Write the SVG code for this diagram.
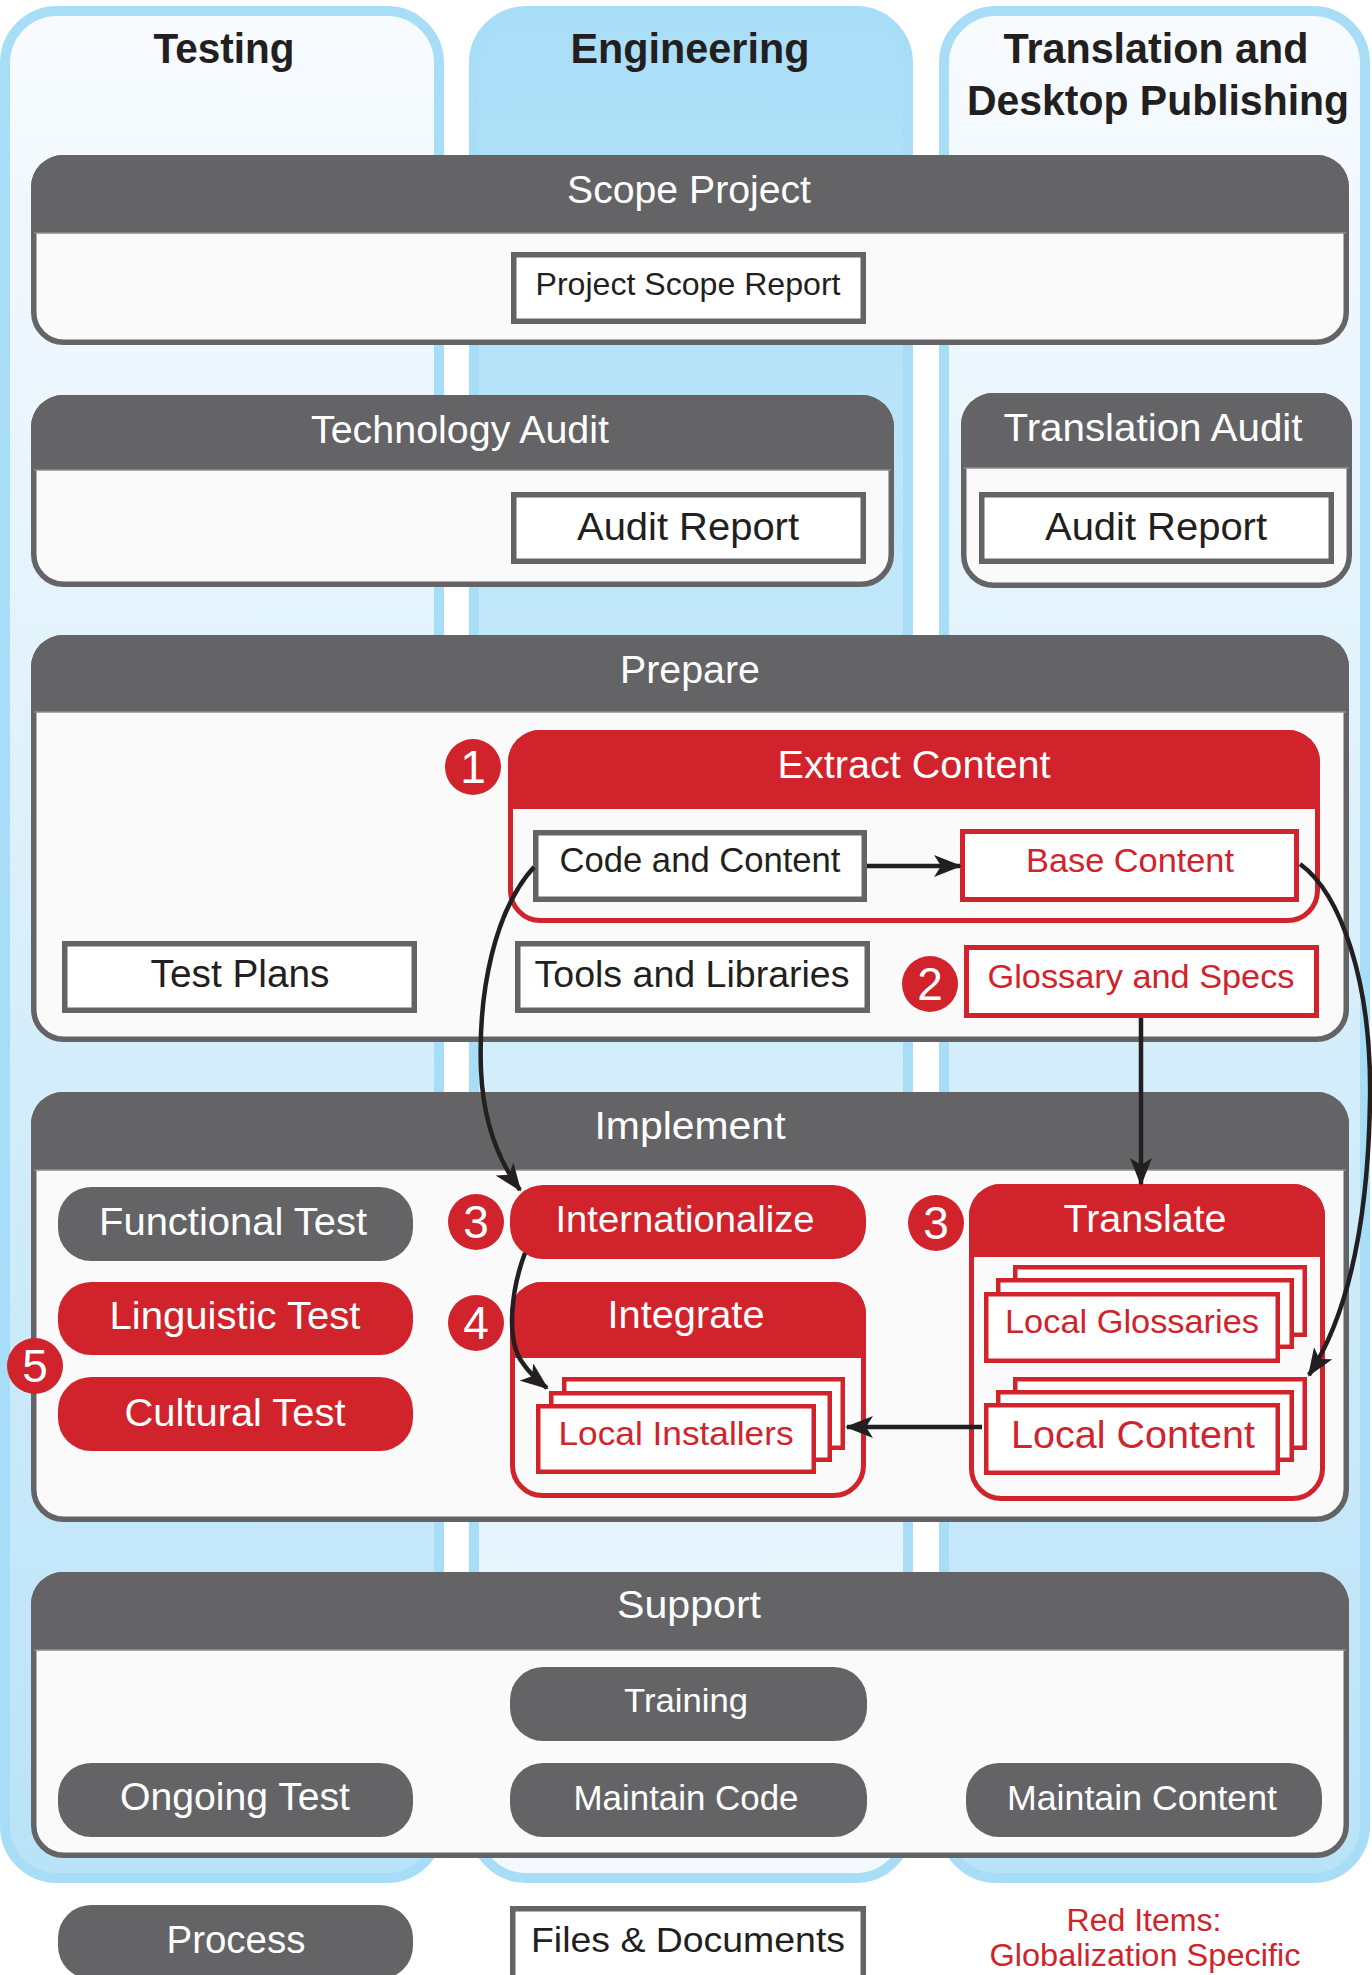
<svg xmlns="http://www.w3.org/2000/svg" width="1372" height="1975" viewBox="0 0 1372 1975">
<defs>
<linearGradient id="gLight" x1="0" y1="0" x2="0" y2="1">
<stop offset="0" stop-color="#f8fbfe"/>
<stop offset="1" stop-color="#b9e3f8"/>
</linearGradient>
<linearGradient id="gEng" x1="0" y1="0" x2="0" y2="1">
<stop offset="0" stop-color="#a9def7"/>
<stop offset="1" stop-color="#f3f9fe"/>
</linearGradient>
<marker id="arr" viewBox="0 0 28 22" refX="26" refY="11" markerWidth="28" markerHeight="22" markerUnits="userSpaceOnUse" orient="auto">
<path d="M0,0 L28,11 L0,22 L7,11 Z" fill="#231f20"/>
</marker>
<style>
.lane{stroke:#a7ddf6;stroke-width:10}
.cont{fill:#fafafa;stroke:#646467;stroke-width:5.5}
.hdr{fill:#646467}
.sep{stroke:#8e8e91;stroke-width:1.5}
.rcont{fill:#fafafa;stroke:#d1232b;stroke-width:5}
.rhdr{fill:#d1232b}
.box{fill:#ffffff;stroke:#646467;stroke-width:5.5}
.rbox{fill:#ffffff;stroke:#d1232b;stroke-width:5}
.stk{fill:#ffffff;stroke:#d1232b;stroke-width:4.5}
.gpill{fill:#646467}
.rpill{fill:#d1232b}
.badge{fill:#d1232b}
text{font-family:"Liberation Sans",Arial,sans-serif;text-anchor:middle}
.ttl{font-weight:bold;font-size:42px;fill:#231f20}
.w{fill:#ffffff}
.k{fill:#231f20}
.r{fill:#d1232b}
.num{fill:#ffffff;font-size:46px}
.conn{fill:none;stroke:#231f20;stroke-width:4.5}
</style>
</defs>

<g id="lanes">
<g id="lane-testing">
<rect class="lane" x="5" y="11" width="434" height="1867" rx="52" fill="url(#gLight)"/>
<text class="ttl" x="224" y="63" textLength="141" lengthAdjust="spacingAndGlyphs">Testing</text>
</g>
<g id="lane-engineering">
<rect class="lane" x="474" y="11" width="434" height="1867" rx="52" fill="url(#gEng)"/>
<text class="ttl" x="690" y="63" textLength="239" lengthAdjust="spacingAndGlyphs">Engineering</text>
</g>
<g id="lane-translation">
<rect class="lane" x="944" y="11" width="421" height="1867" rx="52" fill="url(#gLight)"/>
<text class="ttl" x="1156" y="63" textLength="305" lengthAdjust="spacingAndGlyphs">Translation and</text>
<text class="ttl" x="1158" y="115" textLength="382" lengthAdjust="spacingAndGlyphs">Desktop Publishing</text>
</g>
</g>

<g id="scope-project">
<rect class="cont" x="33.75" y="157.75" width="1312.5" height="184.5" rx="30"/>
<path class="hdr" d="M31,233 V187 A32,32 0 0 1 63,155 H1317 A32,32 0 0 1 1349,187 V233 Z"/>
<line class="sep" x1="34" y1="233" x2="1346" y2="233"/>
<text class="w" x="689" y="203" font-size="38" textLength="244" lengthAdjust="spacingAndGlyphs">Scope Project</text>
</g>
<g id="project-scope-report">
<rect class="box" x="513.75" y="254.75" width="349.5" height="66.5"/>
<text class="k" x="688" y="295" font-size="32" textLength="305" lengthAdjust="spacingAndGlyphs">Project Scope Report</text>
</g>

<g id="technology-audit">
<rect class="cont" x="33.75" y="397.75" width="857.5" height="186.5" rx="30"/>
<path class="hdr" d="M31,470 V427 A32,32 0 0 1 63,395 H862 A32,32 0 0 1 894,427 V470 Z"/>
<line class="sep" x1="34" y1="470" x2="891" y2="470"/>
<text class="w" x="460" y="443" font-size="38" textLength="298" lengthAdjust="spacingAndGlyphs">Technology Audit</text>
</g>
<g id="audit-report-tech">
<rect class="box" x="513.75" y="494.75" width="349.5" height="66.5"/>
<text class="k" x="688" y="540" font-size="39" textLength="222" lengthAdjust="spacingAndGlyphs">Audit Report</text>
</g>

<g id="translation-audit">
<rect class="cont" x="963.75" y="395.75" width="385.5" height="189.5" rx="30"/>
<path class="hdr" d="M961,468 V425 A32,32 0 0 1 993,393 H1320 A32,32 0 0 1 1352,425 V468 Z"/>
<line class="sep" x1="964" y1="468" x2="1349" y2="468"/>
<text class="w" x="1153" y="441" font-size="38" textLength="299" lengthAdjust="spacingAndGlyphs">Translation Audit</text>
</g>
<g id="audit-report-trans">
<rect class="box" x="981.75" y="494.75" width="349.5" height="66.5"/>
<text class="k" x="1156" y="540" font-size="39" textLength="222" lengthAdjust="spacingAndGlyphs">Audit Report</text>
</g>

<g id="prepare">
<rect class="cont" x="33.75" y="637.75" width="1312.5" height="401.5" rx="30"/>
<path class="hdr" d="M31,712 V667 A32,32 0 0 1 63,635 H1317 A32,32 0 0 1 1349,667 V712 Z"/>
<line class="sep" x1="34" y1="712" x2="1346" y2="712"/>
<text class="w" x="690" y="683" font-size="38" textLength="140" lengthAdjust="spacingAndGlyphs">Prepare</text>
</g>

<g id="extract-content">
<rect class="rcont" x="510.5" y="732.5" width="807" height="188" rx="30"/>
<path class="rhdr" d="M508,809 V762 A32,32 0 0 1 540,730 H1288 A32,32 0 0 1 1320,762 V809 Z"/>
<text class="w" x="914" y="778" font-size="38" textLength="273" lengthAdjust="spacingAndGlyphs">Extract Content</text>
</g>
<g id="badge-1">
<circle class="badge" cx="473" cy="767" r="28"/>
<text class="num" x="473" y="783">1</text>
</g>
<g id="code-and-content">
<rect class="box" x="535.75" y="832.75" width="328.5" height="66.5"/>
<text class="k" x="700" y="872" font-size="35" textLength="281" lengthAdjust="spacingAndGlyphs">Code and Content</text>
</g>
<g id="base-content">
<rect class="rbox" x="962.5" y="831.5" width="334" height="68"/>
<text class="r" x="1130" y="872" font-size="34" textLength="208" lengthAdjust="spacingAndGlyphs">Base Content</text>
</g>
<g id="test-plans">
<rect class="box" x="64.75" y="943.75" width="349.5" height="66.5"/>
<text class="k" x="240" y="987" font-size="38" textLength="179" lengthAdjust="spacingAndGlyphs">Test Plans</text>
</g>
<g id="tools-and-libraries">
<rect class="box" x="517.75" y="943.75" width="349.5" height="66.5"/>
<text class="k" x="692" y="987" font-size="37" textLength="315" lengthAdjust="spacingAndGlyphs">Tools and Libraries</text>
</g>
<g id="badge-2">
<circle class="badge" cx="930" cy="984" r="28"/>
<text class="num" x="930" y="1000">2</text>
</g>
<g id="glossary-and-specs">
<rect class="rbox" x="966.5" y="947.5" width="350" height="68"/>
<text class="r" x="1141" y="988" font-size="33" textLength="307" lengthAdjust="spacingAndGlyphs">Glossary and Specs</text>
</g>

<g id="implement">
<rect class="cont" x="33.75" y="1094.75" width="1312.5" height="424.5" rx="30"/>
<path class="hdr" d="M31,1170 V1124 A32,32 0 0 1 63,1092 H1317 A32,32 0 0 1 1349,1124 V1170 Z"/>
<line class="sep" x1="34" y1="1170" x2="1346" y2="1170"/>
<text class="w" x="690" y="1139" font-size="38" textLength="191" lengthAdjust="spacingAndGlyphs">Implement</text>
</g>
<g id="functional-test">
<rect class="gpill" x="58" y="1187" width="355" height="74" rx="33"/>
<text class="w" x="233" y="1235" font-size="38" textLength="268" lengthAdjust="spacingAndGlyphs">Functional Test</text>
</g>
<g id="linguistic-test">
<rect class="rpill" x="58" y="1282" width="355" height="73" rx="33"/>
<text class="w" x="235" y="1329" font-size="38" textLength="251" lengthAdjust="spacingAndGlyphs">Linguistic Test</text>
</g>
<g id="cultural-test">
<rect class="rpill" x="58" y="1377" width="355" height="74" rx="33"/>
<text class="w" x="235" y="1426" font-size="38" textLength="221" lengthAdjust="spacingAndGlyphs">Cultural Test</text>
</g>
<g id="badge-5">
<circle class="badge" cx="35" cy="1366" r="28"/>
<text class="num" x="35" y="1382">5</text>
</g>
<g id="badge-3a">
<circle class="badge" cx="476" cy="1222" r="28"/>
<text class="num" x="476" y="1238">3</text>
</g>
<g id="internationalize">
<rect class="rpill" x="510" y="1185" width="356" height="74" rx="33"/>
<text class="w" x="685" y="1232" font-size="37" textLength="259" lengthAdjust="spacingAndGlyphs">Internationalize</text>
</g>
<g id="badge-4">
<circle class="badge" cx="476" cy="1323" r="28"/>
<text class="num" x="476" y="1339">4</text>
</g>
<g id="integrate">
<rect class="rcont" x="512.5" y="1284.5" width="351" height="211" rx="30"/>
<path class="rhdr" d="M510,1358 V1314 A32,32 0 0 1 542,1282 H834 A32,32 0 0 1 866,1314 V1358 Z"/>
<text class="w" x="686" y="1328" font-size="38" textLength="157" lengthAdjust="spacingAndGlyphs">Integrate</text>
</g>
<g id="local-installers">
<rect class="stk" x="564.25" y="1379.25" width="278.5" height="68.5"/>
<rect class="stk" x="551.25" y="1393.25" width="278.5" height="66.5"/>
<rect class="stk" x="538.25" y="1406.25" width="275.5" height="65.5"/>
<text class="r" x="676" y="1445" font-size="33" textLength="235" lengthAdjust="spacingAndGlyphs">Local Installers</text>
</g>
<g id="badge-3b">
<circle class="badge" cx="936" cy="1223" r="28"/>
<text class="num" x="936" y="1239">3</text>
</g>
<g id="translate">
<rect class="rcont" x="971.5" y="1186.5" width="351" height="312" rx="30"/>
<path class="rhdr" d="M969,1257 V1216 A32,32 0 0 1 1001,1184 H1293 A32,32 0 0 1 1325,1216 V1257 Z"/>
<text class="w" x="1145" y="1232" font-size="38" textLength="163" lengthAdjust="spacingAndGlyphs">Translate</text>
</g>
<g id="local-glossaries">
<rect class="stk" x="1015.25" y="1267.25" width="289.5" height="67.5"/>
<rect class="stk" x="998.25" y="1280.25" width="293.5" height="66.5"/>
<rect class="stk" x="986.25" y="1294.25" width="291.5" height="66.5"/>
<text class="r" x="1132" y="1333" font-size="34" textLength="254" lengthAdjust="spacingAndGlyphs">Local Glossaries</text>
</g>
<g id="local-content">
<rect class="stk" x="1015.25" y="1379.25" width="289.5" height="68.5"/>
<rect class="stk" x="998.25" y="1392.25" width="293.5" height="67.5"/>
<rect class="stk" x="986.25" y="1405.25" width="291.5" height="67.5"/>
<text class="r" x="1133" y="1448" font-size="39" textLength="244" lengthAdjust="spacingAndGlyphs">Local Content</text>
</g>

<g id="support">
<rect class="cont" x="33.75" y="1574.75" width="1312.5" height="280.5" rx="30"/>
<path class="hdr" d="M31,1650 V1604 A32,32 0 0 1 63,1572 H1317 A32,32 0 0 1 1349,1604 V1650 Z"/>
<line class="sep" x1="34" y1="1650" x2="1346" y2="1650"/>
<text class="w" x="689" y="1618" font-size="38" textLength="144" lengthAdjust="spacingAndGlyphs">Support</text>
</g>
<g id="training">
<rect class="gpill" x="510" y="1667" width="357" height="74" rx="33"/>
<text class="w" x="686" y="1712" font-size="33" textLength="124" lengthAdjust="spacingAndGlyphs">Training</text>
</g>
<g id="ongoing-test">
<rect class="gpill" x="58" y="1763" width="355" height="74" rx="33"/>
<text class="w" x="235" y="1810" font-size="38" textLength="230" lengthAdjust="spacingAndGlyphs">Ongoing Test</text>
</g>
<g id="maintain-code">
<rect class="gpill" x="510" y="1763" width="357" height="74" rx="33"/>
<text class="w" x="686" y="1810" font-size="35" textLength="225" lengthAdjust="spacingAndGlyphs">Maintain Code</text>
</g>
<g id="maintain-content">
<rect class="gpill" x="966" y="1763" width="356" height="74" rx="33"/>
<text class="w" x="1142" y="1810" font-size="35" textLength="270" lengthAdjust="spacingAndGlyphs">Maintain Content</text>
</g>

<g id="legend-process">
<rect class="gpill" x="58" y="1905" width="355" height="74" rx="33"/>
<text class="w" x="236" y="1953" font-size="38" textLength="139" lengthAdjust="spacingAndGlyphs">Process</text>
</g>
<g id="legend-files">
<rect class="box" x="512.75" y="1908.75" width="350.5" height="70"/>
<text class="k" x="688" y="1952" font-size="35" textLength="314" lengthAdjust="spacingAndGlyphs">Files &amp; Documents</text>
</g>
<g id="legend-red">
<text class="r" x="1144" y="1931" font-size="31" textLength="155" lengthAdjust="spacingAndGlyphs">Red Items:</text>
<text class="r" x="1145" y="1966" font-size="31" textLength="311" lengthAdjust="spacingAndGlyphs">Globalization Specific</text>
</g>

<g id="connectors">
<path class="conn" d="M867,866 H960" marker-end="url(#arr)"/>
<path class="conn" d="M1141,1018 V1184" marker-end="url(#arr)"/>
<path class="conn" d="M982,1427 H847" marker-end="url(#arr)"/>
<path class="conn" d="M534,867 C495,910 478,990 481,1070 C483,1120 498,1160 520,1190" marker-end="url(#arr)"/>
<path class="conn" d="M525,1253 C511,1290 506,1340 522,1362 C530,1374 538,1381 547,1388" marker-end="url(#arr)"/>
<path class="conn" d="M1300,864 C1340,893 1372,980 1370,1100 C1368,1230 1345,1320 1309,1375" marker-end="url(#arr)"/>
</g>
</svg>
